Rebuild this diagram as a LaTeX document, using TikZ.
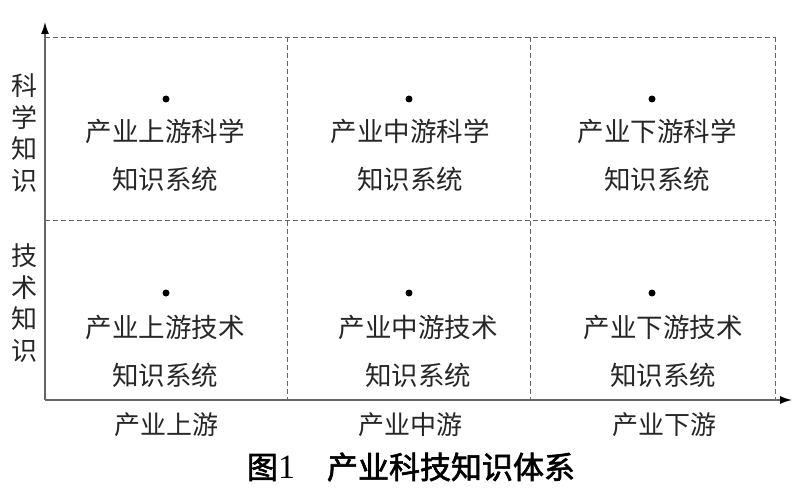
\documentclass[tikz,border=0pt]{standalone}
\usepackage{fontspec}
\setmainfont{Liberation Serif}
\newfontfamily\cjk{Noto Sans CJK SC}
\newfontfamily\cjkb{Noto Sans CJK SC}[BoldFont=*,FakeBold=2]
\usetikzlibrary{arrows.meta}
\begin{document}
\begin{tikzpicture}[x=1pt,y=-1pt,
  axis/.style={draw=black!60,line width=1.3pt,-{Latex[length=12pt,width=8pt,black]}},
  grid/.style={draw=black!60,line width=0.9pt,dash pattern=on 5pt off 3pt},
  cell/.style={font=\cjk\fontsize{26.5}{48}\selectfont,align=center,text=black!85,inner sep=0pt},
  lab/.style={font=\cjk\fontsize{26}{26}\selectfont,text=black!85,inner sep=0pt},
  vlab/.style={font=\cjk\fontsize{26}{31.5}\selectfont,align=center,text=black!85,inner sep=0pt},
  dot/.style={circle,fill=black,inner sep=0pt,minimum size=7pt}]
\useasboundingbox (0,0) rectangle (800,500);
% coordinates
\coordinate (O) at (45,400);
\coordinate (ytip) at (45,22);
\coordinate (xtip) at (792,400);
\coordinate (t0) at (45,37);
\coordinate (t3) at (775,37);
\coordinate (m0) at (45,220);
\coordinate (m3) at (775,220);
\coordinate (a1) at (287,37);
\coordinate (b1) at (287,400);
\coordinate (a2) at (530,37);
\coordinate (b2) at (530,400);
\coordinate (a3) at (775,37);
\coordinate (b3) at (775,400);
% grid
\draw[grid] (t0) -- (t3);
\draw[grid] (m0) -- (m3);
\draw[grid] (a1) -- (b1);
\draw[grid] (a2) -- (b2);
\draw[grid] (a3) -- (b3);
% axes
\draw[axis] (O) -- (ytip);
\draw[axis] (O) -- (xtip);
% dots
\node[dot] (d11) at (166,99) {};
\node[dot] (d12) at (409,99) {};
\node[dot] (d13) at (652,99) {};
\node[dot] (d21) at (166,293) {};
\node[dot] (d22) at (409,293) {};
\node[dot] (d23) at (652,293) {};
% cell texts
\node[cell] (c11) at (165,155) {产业上游科学\\知识系统};
\node[cell] (c12) at (410,155) {产业中游科学\\知识系统};
\node[cell] (c13) at (657,155) {产业下游科学\\知识系统};
\node[cell] (c21) at (165,351) {产业上游技术\\知识系统};
\node[cell] (c22) at (418,351) {产业中游技术\\知识系统};
\node[cell] (c23) at (663,351) {产业下游技术\\知识系统};
% axis labels
\node[vlab] (ly1) at (24,133) {科\\学\\知\\识};
\node[vlab] (ly2) at (24,303) {技\\术\\知\\识};
\node[lab] (lx1) at (166,425) {产业上游};
\node[lab] (lx2) at (410,425) {产业中游};
\node[lab] (lx3) at (664,425) {产业下游};
% caption
\node[font=\cjkb\bfseries\fontsize{31}{31}\selectfont,inner sep=0pt] (cap) at (411,467) {图{\rmfamily\mdseries\fontsize{34}{34}\selectfont 1}\hspace{32pt}产业科技知识体系};
\end{tikzpicture}
\end{document}
